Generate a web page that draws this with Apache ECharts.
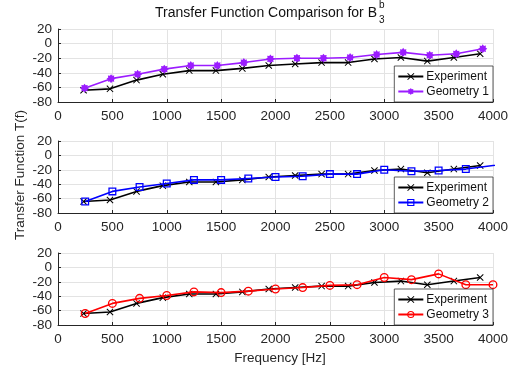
<!DOCTYPE html>
<html>
<head>
<meta charset="utf-8">
<script src="https://cdn.jsdelivr.net/npm/echarts@6/dist/echarts.min.js"></script>
<style>
  html, body { margin: 0; padding: 0; background: #fff; }
  #chart { width: 527px; height: 371px; }
</style>
</head>
<body>
<div id="chart"></div>
<script>
// Measured transfer function T(f) in dB against three modelled geometries
const freqExp = [235, 478, 722, 964, 1207, 1452, 1695, 1938, 2181, 2424, 2668, 2910, 3153, 3396, 3640, 3882];
const valExp  = [-64, -62, -50, -42, -37, -37, -34, -30, -28, -26, -26, -21, -19, -24, -19, -14];

const freqGeo1 = [244, 488, 732, 977, 1221, 1465, 1709, 1953, 2197, 2441, 2686, 2930, 3174, 3418, 3662, 3906];
const valGeo1  = [-61, -48, -42, -35, -30, -30, -26, -21, -20, -20, -19, -15, -12, -16, -14, -7];

const freqGeo2 = [250, 500, 750, 1000, 1250, 1500, 1750, 2000, 2250, 2500, 2750, 3000, 3250, 3500, 3750, 4250];
const valGeo2  = [-64, -50, -44, -39, -34, -34, -32, -30, -29, -26, -26, -20, -22, -21, -19, -9];

const freqGeo3 = [250, 500, 750, 1000, 1250, 1500, 1750, 2000, 2250, 2500, 2750, 3000, 3250, 3500, 3750, 4000];
const valGeo3  = [-64, -50, -43, -39, -34, -35, -33, -30, -28, -25, -24, -14, -17, -9, -24, -24];

const legendNames = ['Experiment', 'Geometry 1', 'Geometry 2', 'Geometry 3'];

const FONT = '"Liberation Sans", Arial, Helvetica, sans-serif';
const AXIS_COLOR = '#262626';
const GRID_COLOR = '#e3e3e3';

// marker shapes
const xMark = 'path://M0,1L1,0L5,4L9,0L10,1L6,5L10,9L9,10L5,6L1,10L0,9L4,5Z';
const squareMark = 'path://M0,0H10V10H0Z M1.6,1.6V8.4H8.4V1.6Z';
const circleMark = 'path://M5,0A5,5,0,1,1,5,10A5,5,0,1,1,5,0Z M5,1.5A3.5,3.5,0,1,0,5,8.5A3.5,3.5,0,1,0,5,1.5Z';
const starMark = (function () {
  let d = 'path://';
  for (let i = 0; i < 16; i++) {
    const r = i % 2 === 0 ? 5 : 3.4;
    const a = Math.PI * i / 8 - Math.PI / 2;
    const px = (5 + r * Math.cos(a)).toFixed(3);
    const py = (5 + r * Math.sin(a)).toFixed(3);
    d += (i === 0 ? 'M' : 'L') + px + ',' + py;
  }
  return d + 'Z';
})();

const pairs = (xs, ys) => xs.map((x, i) => [x, ys[i]]);
const plainNumber = v => String(v);

const grids = [
  { left: 58, right: 34, top: 29, height: 73 },
  { left: 58, right: 34, top: 141, height: 72 },
  { left: 58, right: 34, top: 253, height: 72 }
];

const xAxes = grids.map((g, i) => ({
  type: 'value', gridIndex: i, min: 0, max: 4000, interval: 500,
  axisLine: { show: true, onZero: false, lineStyle: { color: AXIS_COLOR, width: 1 } },
  axisTick: { show: true, inside: true, length: 3, lineStyle: { color: AXIS_COLOR } },
  axisLabel: { color: AXIS_COLOR, fontSize: 13.5, fontFamily: FONT, margin: 7, formatter: plainNumber },
  splitLine: { show: true, lineStyle: { color: GRID_COLOR, width: 1 } }
}));

const yAxes = grids.map((g, i) => ({
  type: 'value', gridIndex: i, min: -80, max: 20, interval: 20,
  axisLine: { show: true, onZero: false, lineStyle: { color: AXIS_COLOR, width: 1 } },
  axisTick: { show: true, inside: true, length: 3, lineStyle: { color: AXIS_COLOR } },
  axisLabel: { color: AXIS_COLOR, fontSize: 13.5, fontFamily: FONT, margin: 6, formatter: plainNumber },
  splitLine: { show: true, lineStyle: { color: GRID_COLOR, width: 1 } }
}));

function lineSeries(name, idx, data, color, symbol, size) {
  return {
    name: name, type: 'line', xAxisIndex: idx, yAxisIndex: idx,
    data: data, symbol: symbol, symbolSize: size, showAllSymbol: true,
    lineStyle: { color: color, width: 1.6 },
    itemStyle: { color: color },
    animation: false, clip: true, z: name === 'Experiment' ? 2 : 3
  };
}

const series = [
  lineSeries('Experiment', 0, pairs(freqExp, valExp), '#000000', xMark, 7),
  lineSeries('Geometry 1', 0, pairs(freqGeo1, valGeo1), '#9b1cff', starMark, 9),
  lineSeries('Experiment', 1, pairs(freqExp, valExp), '#000000', xMark, 7),
  lineSeries('Geometry 2', 1, pairs(freqGeo2, valGeo2), '#0000ff', squareMark, 8),
  lineSeries('Experiment', 2, pairs(freqExp, valExp), '#000000', xMark, 7),
  lineSeries('Geometry 3', 2, pairs(freqGeo3, valGeo3), '#ff0000', circleMark, 9)
];

const legendTops = [66, 177, 289];
const legends = legendTops.map((top, i) => ({
  data: [legendNames[0], legendNames[i + 1]],
  orient: 'vertical', right: 34, top: top,
  itemWidth: 25, itemHeight: 9, itemGap: 2,
  padding: [4, 4, 4, 3],
  backgroundColor: '#ffffff', borderColor: '#333333', borderWidth: 0.8,
  selectedMode: false,
  textStyle: { color: '#111', fontSize: 12, fontFamily: FONT, padding: [0, 0, 0, -2], lineHeight: 13 }
}));

const option = {
  backgroundColor: '#ffffff',
  animation: false,
  grid: grids,
  xAxis: xAxes,
  yAxis: yAxes,
  legend: legends,
  series: series,
  graphic: [
    { type: 'text', x: 377, y: 13, style: { text: 'Transfer Function Comparison for B', fontSize: 14, fontFamily: FONT, fill: '#111', textAlign: 'right', textVerticalAlign: 'middle' } },
    { type: 'text', x: 379, y: 5, style: { text: 'b', fontSize: 10, fontFamily: FONT, fill: '#111', textAlign: 'left', textVerticalAlign: 'middle' } },
    { type: 'text', x: 379, y: 20, style: { text: '3', fontSize: 10, fontFamily: FONT, fill: '#111', textAlign: 'left', textVerticalAlign: 'middle' } },
    { type: 'text', x: 20, y: 175, rotation: Math.PI / 2, style: { text: 'Transfer Function T(f)', fontSize: 13.5, fontFamily: FONT, fill: AXIS_COLOR, textAlign: 'center', textVerticalAlign: 'middle' } },
    { type: 'text', x: 280, y: 358, style: { text: 'Frequency [Hz]', fontSize: 13.5, fontFamily: FONT, fill: AXIS_COLOR, textAlign: 'center', textVerticalAlign: 'middle' } }
  ]
};

const chart = echarts.init(document.getElementById('chart'), null, { renderer: 'canvas' });
chart.setOption(option);
</script>
</body>
</html>
